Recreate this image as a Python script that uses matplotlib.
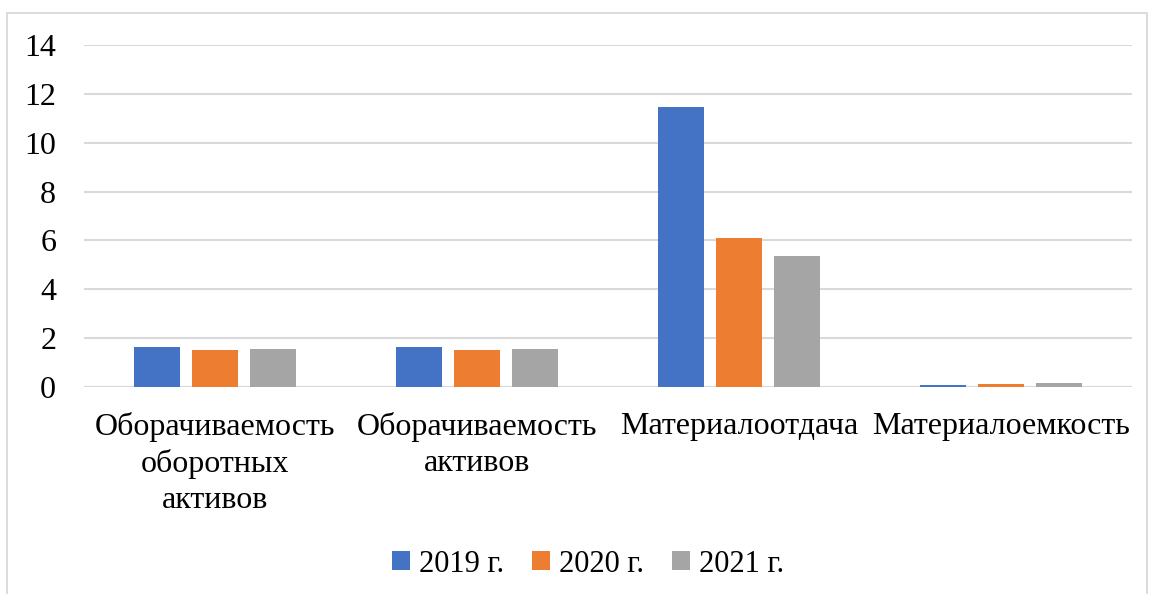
import matplotlib

matplotlib.use("Agg")
import matplotlib.pyplot as plt
import numpy as np
from matplotlib.patches import Rectangle

plt.rcParams["font.family"] = ["Liberation Serif", "DejaVu Serif"]

categories = [
    "Оборачиваемость\nоборотных\nактивов",
    "Оборачиваемость\nактивов",
    "Материалоотдача",
    "Материалоемкость",
]
years = ["2019 г.", "2020 г.", "2021 г."]
values_2019 = [1.65, 1.65, 11.45, 0.07]
values_2020 = [1.50, 1.50, 6.10, 0.14]
values_2021 = [1.57, 1.57, 5.35, 0.17]
colors = ["#4472c4", "#ed7d31", "#a5a5a5"]
yticks = [0, 2, 4, 6, 8, 10, 12, 14]

fig = plt.figure(figsize=(11.5, 5.94), dpi=100)
ax = fig.add_axes([84 / 1150, 1 - 387 / 594, (1132 - 84) / 1150, (387 - 45) / 594])

# outer chart frame
fig.patches.append(Rectangle((7 / 1150, -0.05), 1140 / 1150, 1 - 13 / 594 + 0.05,
                             transform=fig.transFigure, fill=False,
                             edgecolor="#d9d9d9", lw=1.3))

x = np.arange(len(categories))
width = 0.176
offset = 0.221
series = [values_2019, values_2020, values_2021]
for i, (vals, col, lab) in enumerate(zip(series, colors, years)):
    ax.bar(x + (i - 1) * offset, vals, width, color=col, label=lab, zorder=3)

ax.set_xlim(-0.5, len(categories) - 0.5)
ax.set_ylim(0, 14)
ax.set_yticks(yticks)
ax.set_yticklabels([str(t) for t in yticks], fontsize=23, family="Liberation Serif")
ax.yaxis.grid(True, color="#d9d9d9", lw=1.5, zorder=0)
ax.set_axisbelow(True)
ax.set_xticks(x)
ax.set_xticklabels(categories, fontsize=23, linespacing=1.3, family="Liberation Serif")
ax.tick_params(axis="both", length=0)
ax.tick_params(axis="y", pad=20)
ax.tick_params(axis="x", pad=18)
for spine in ax.spines.values():
    spine.set_visible(False)
ax.axhline(0, color="#d9d9d9", lw=1.5, zorder=2)

ax.legend(loc="center", bbox_to_anchor=(588 / 1150, 1 - 564 / 594),
          bbox_transform=fig.transFigure, ncol=3, frameon=False,
          prop={"family": "Liberation Serif", "size": 22},
          handlelength=0.6, handleheight=0.6, handletextpad=0.3, columnspacing=0.9)

fig.savefig("out.png", dpi=100, facecolor="white")
